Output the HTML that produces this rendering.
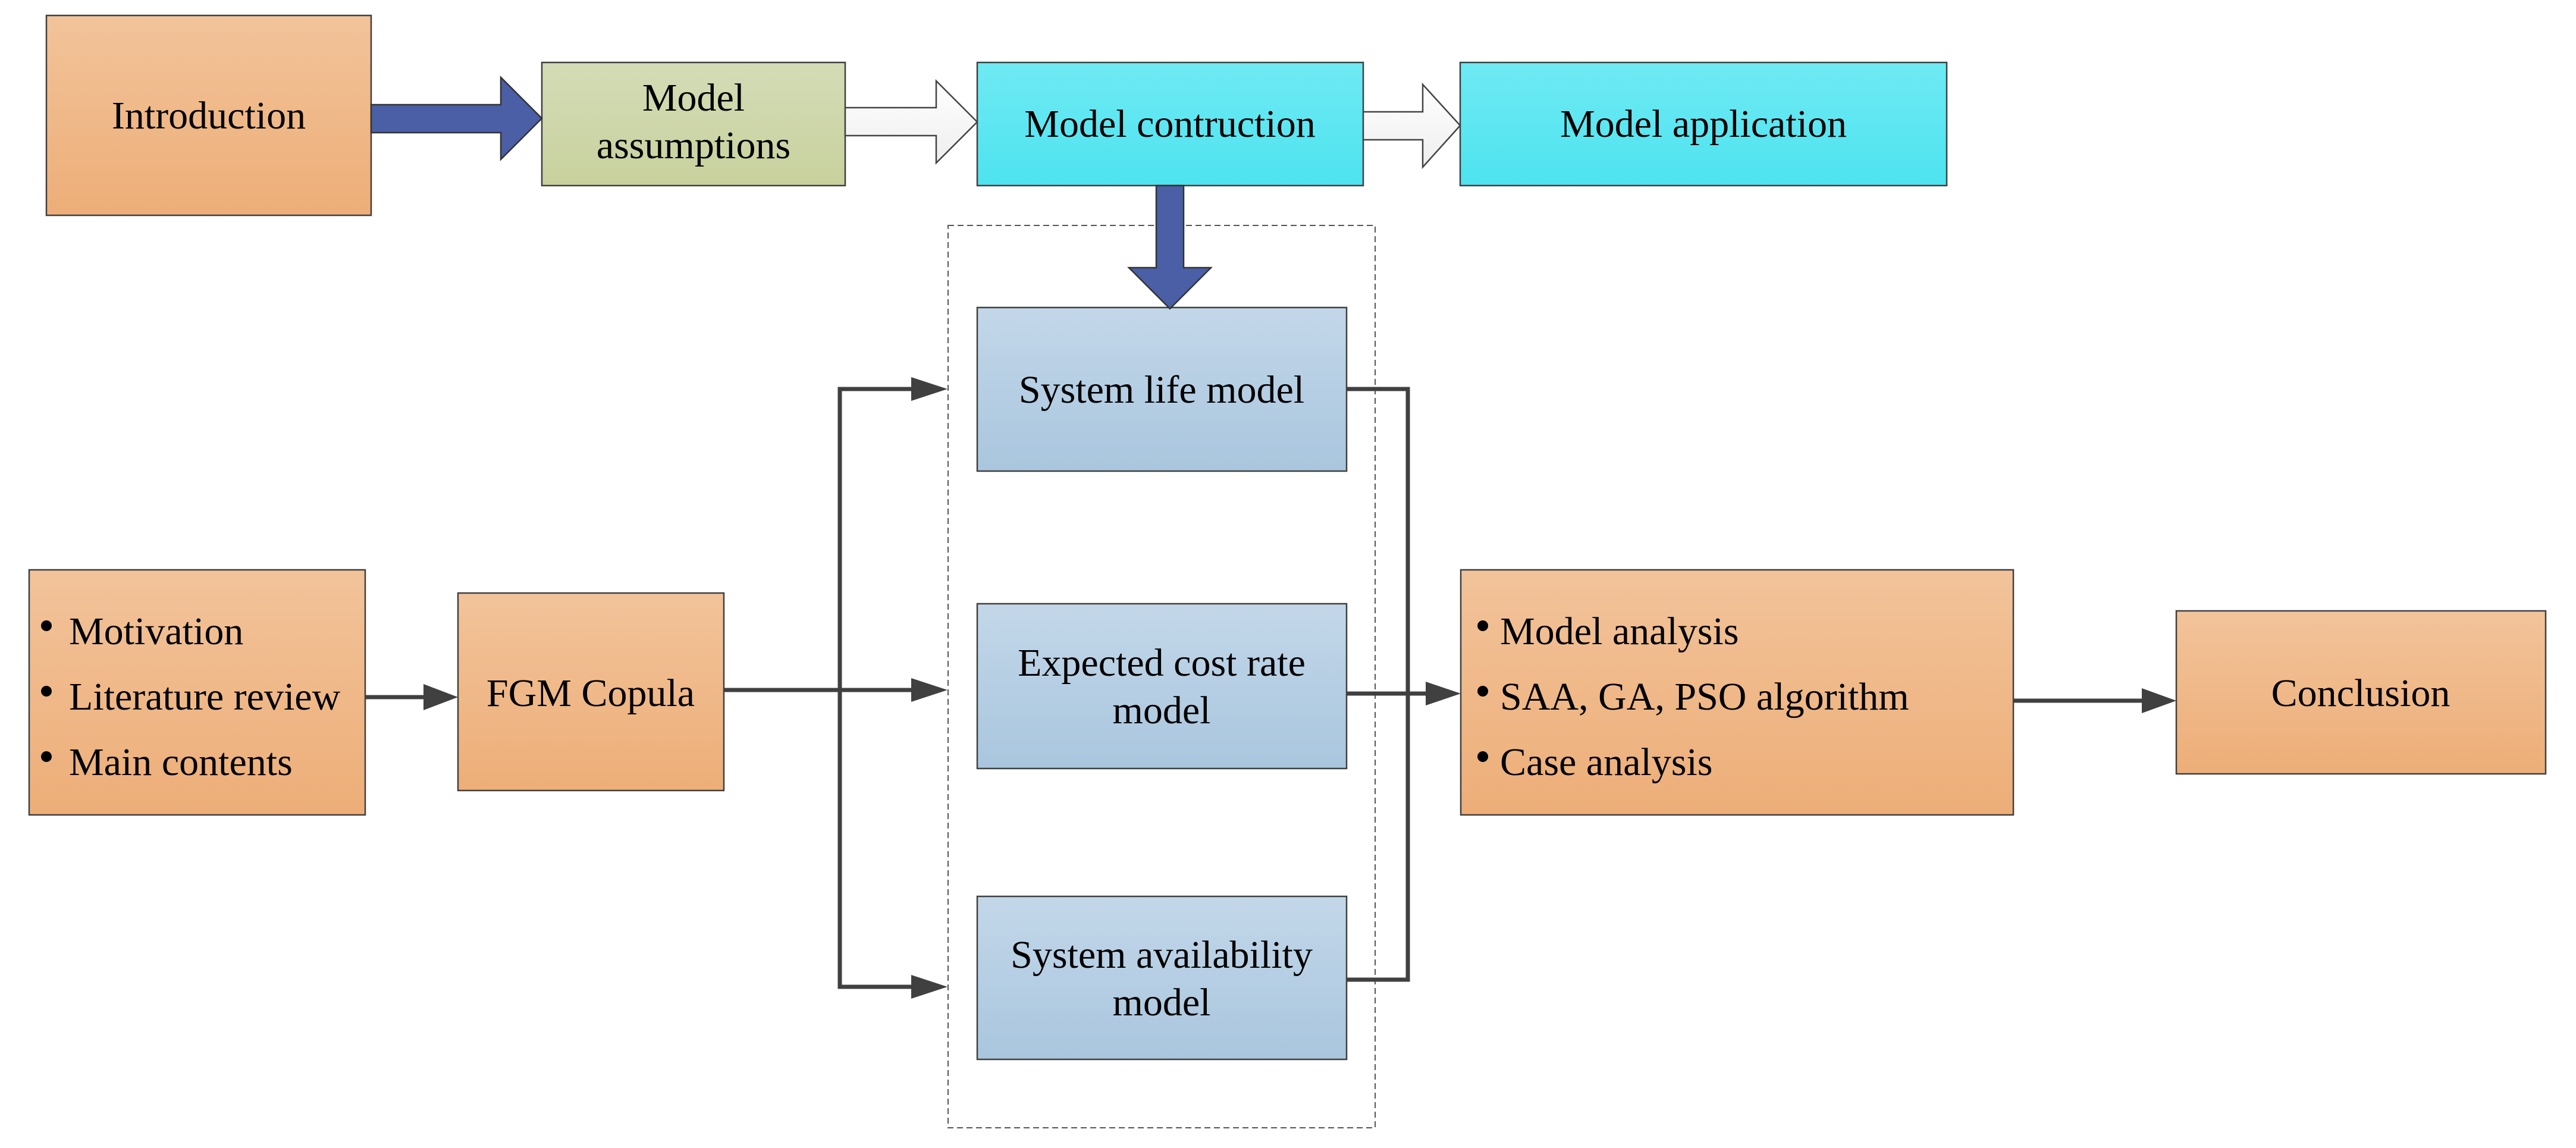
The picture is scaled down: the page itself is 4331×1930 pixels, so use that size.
<!DOCTYPE html>
<html><head><meta charset="utf-8"><style>html,body{margin:0;padding:0;background:#fff}svg{display:block}text{font-family:"Liberation Serif",serif}</style></head>
<body>
<svg width="4331" height="1930" viewBox="0 0 4331 1930" xmlns="http://www.w3.org/2000/svg" style="font-family:'Liberation Serif',serif" font-size="66">
<defs>
<linearGradient id="or" x1="0" y1="0" x2="0" y2="1"><stop offset="0" stop-color="#f2c39a"/><stop offset="1" stop-color="#edae78"/></linearGradient>
<linearGradient id="gr" x1="0" y1="0" x2="0" y2="1"><stop offset="0" stop-color="#d4dcb7"/><stop offset="1" stop-color="#c8d19d"/></linearGradient>
<linearGradient id="cy" x1="0" y1="0" x2="0" y2="1"><stop offset="0" stop-color="#6feaf4"/><stop offset="1" stop-color="#4de3ef"/></linearGradient>
<linearGradient id="bl" x1="0" y1="0" x2="0" y2="1"><stop offset="0" stop-color="#c3d7e9"/><stop offset="1" stop-color="#a9c6de"/></linearGradient>
<linearGradient id="wh" x1="0" y1="0" x2="0" y2="1"><stop offset="0" stop-color="#ffffff"/><stop offset="1" stop-color="#eeeeee"/></linearGradient>
</defs>
<g stroke="#404040" stroke-width="2.5">
<rect x="78" y="26" width="546" height="336" fill="url(#or)"/>
<rect x="911" y="105" width="510" height="207" fill="url(#gr)"/>
<rect x="1643" y="105" width="649" height="207" fill="url(#cy)"/>
<rect x="2455" y="105" width="818" height="207" fill="url(#cy)"/>
<rect x="49" y="958" width="565" height="412" fill="url(#or)"/>
<rect x="770" y="997" width="447" height="332" fill="url(#or)"/>
<rect x="2456" y="958" width="929" height="412" fill="url(#or)"/>
<rect x="3659" y="1027" width="621" height="274" fill="url(#or)"/>
<rect x="1643" y="517" width="621" height="275" fill="url(#bl)"/>
<rect x="1643" y="1015" width="621" height="277" fill="url(#bl)"/>
<rect x="1643" y="1507" width="621" height="274" fill="url(#bl)"/>
</g>
<rect x="1594" y="379" width="718" height="1517" fill="none" stroke="#555" stroke-width="2" stroke-dasharray="10,6"/>
<path d="M624 176 H842 V130 L911 199 L842 268 V223 H624 Z" fill="#4a5fa6" stroke="#333" stroke-width="2.5"/>
<path d="M1421 181 H1574 V136 L1643 205 L1574 274 V228 H1421 Z" fill="url(#wh)" stroke="#444" stroke-width="2.5"/>
<path d="M2292 188 H2392 V142 L2455 211 L2392 281 V235 H2292 Z" fill="url(#wh)" stroke="#444" stroke-width="2.5"/>
<path d="M1944 312 V450 H1898 L1967 519 L2036 450 H1990 V312 Z" fill="#4a5fa6" stroke="#333" stroke-width="2.5"/>
<g stroke="#404040" stroke-width="7" fill="none">
<line x1="614" y1="1172" x2="715" y2="1172"/>
<line x1="1217" y1="1160" x2="1535" y2="1160"/>
<polyline points="1532,654 1412,654 1412,1659 1532,1659"/>
<polyline points="2264,654 2367,654 2367,1647 2264,1647"/>
<line x1="2264" y1="1166" x2="2400" y2="1166"/>
<line x1="3385" y1="1178" x2="3605" y2="1178"/>
</g>
<g fill="#404040">
<path d="M712 1150 L770 1172 L712 1194 Z"/>
<path d="M1532 1140 L1593 1160 L1532 1180 Z"/>
<path d="M1532 634 L1593 654 L1532 674 Z"/>
<path d="M1532 1639 L1593 1659 L1532 1679 Z"/>
<path d="M2397 1146 L2456 1166 L2397 1186 Z"/>
<path d="M3601 1157 L3659 1178 L3601 1199 Z"/>
</g>
<g fill="#000" text-anchor="middle">
<text x="351" y="216">Introduction</text>
<text x="1166" y="186">Model</text>
<text x="1166" y="266">assumptions</text>
<text x="1967" y="230">Model contruction</text>
<text x="2864" y="230">Model application</text>
<text x="993" y="1187">FGM Copula</text>
<text x="3969" y="1187">Conclusion</text>
<text x="1953" y="677">System life model</text>
<text x="1953" y="1136">Expected cost rate</text>
<text x="1953" y="1216">model</text>
<text x="1953" y="1627">System availability</text>
<text x="1953" y="1707">model</text>
</g>
<g fill="#000">
<circle cx="78" cy="1052" r="9"/><circle cx="78" cy="1162" r="9"/><circle cx="78" cy="1272" r="9"/>
<circle cx="2493" cy="1052" r="9"/><circle cx="2493" cy="1162" r="9"/><circle cx="2493" cy="1272" r="9"/>
<text x="116" y="1083">Motivation</text>
<text x="116" y="1193">Literature review</text>
<text x="116" y="1303">Main contents</text>
<text x="2522" y="1083">Model analysis</text>
<text x="2522" y="1193">SAA, GA, PSO algorithm</text>
<text x="2522" y="1303">Case analysis</text>
</g>
</svg>
</body></html>
